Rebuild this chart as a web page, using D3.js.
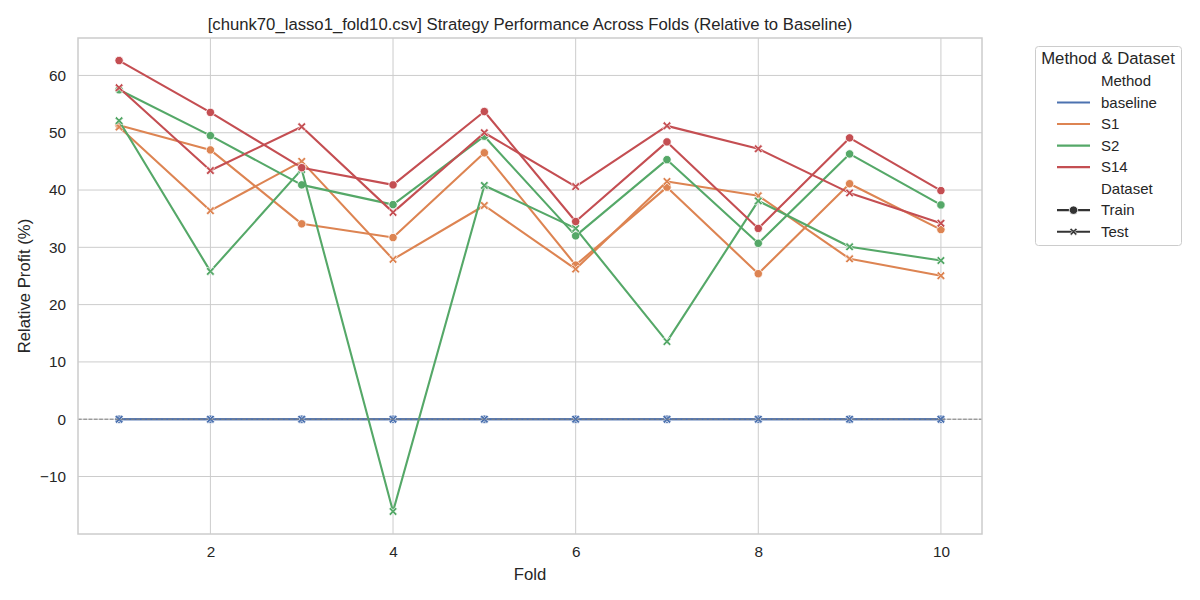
<!DOCTYPE html>
<html>
<head>
<meta charset="utf-8">
<script src="https://cdn.jsdelivr.net/npm/d3@7"></script>
<style>
  body { margin: 0; background: #fff; }
  svg { display: block; }
  text { font-family: "Liberation Sans", Arial, sans-serif; fill: #262626; }
</style>
</head>
<body>
<svg id="chart" width="1200" height="600"></svg>
<script>
const folds = [1, 2, 3, 4, 5, 6, 7, 8, 9, 10];
const methods = ["baseline", "S1", "S2", "S14"];
const datasets = ["Train", "Test"];
const xTicks = [2, 4, 6, 8, 10];
const yTicks = [-10, 0, 10, 20, 30, 40, 50, 60];

const baselineTrain = [0, 0, 0, 0, 0, 0, 0, 0, 0, 0];
const baselineTest  = [0, 0, 0, 0, 0, 0, 0, 0, 0, 0];
const s1Train  = [51.3, 47.0, 34.1, 31.7, 46.5, 26.9, 40.5, 25.4, 41.1, 33.1];
const s1Test   = [51.0, 36.4, 45.0, 27.9, 37.3, 26.2, 41.5, 39.0, 28.0, 25.05];
const s2Train  = [57.5, 49.5, 40.9, 37.45, 49.4, 32.0, 45.3, 30.7, 46.3, 37.4];
const s2Test   = [52.1, 25.8, 43.6, -16.1, 40.8, 33.3, 13.55, 38.1, 30.1, 27.7];
const s14Train = [62.6, 53.55, 43.9, 40.9, 53.7, 34.5, 48.4, 33.3, 49.1, 39.9];
const s14Test  = [57.85, 43.4, 51.05, 36.1, 50.0, 40.6, 51.2, 47.2, 39.5, 34.2];

const colors = { baseline: "#4c72b0", S1: "#dd8452", S2: "#55a868", S14: "#c44e52" };
const seriesValues = {
  baseline: { Train: baselineTrain, Test: baselineTest },
  S1: { Train: s1Train, Test: s1Test },
  S2: { Train: s2Train, Test: s2Test },
  S14: { Train: s14Train, Test: s14Test }
};

const svg = d3.select("#chart");
const pLeft = 78, pRight = 982, pTop = 38, pBottom = 534;

const allVals = methods.flatMap(m => datasets.flatMap(d => seriesValues[m][d]));
const yMin = d3.min(allVals), yMax = d3.max(allVals);
const yPad = (yMax - yMin) * 0.05;
const xPad = (d3.max(folds) - d3.min(folds)) * 0.05;

const x = d3.scaleLinear().domain([d3.min(folds) - xPad, d3.max(folds) + xPad]).range([pLeft, pRight]);
const y = d3.scaleLinear().domain([yMin - yPad, yMax + yPad]).range([pBottom, pTop]);

// grid
const g = svg.append("g");
g.selectAll(".gx").data(xTicks).join("line")
  .attr("x1", d => x(d)).attr("x2", d => x(d)).attr("y1", pTop).attr("y2", pBottom)
  .attr("stroke", "#cccccc").attr("stroke-width", 1);
g.selectAll(".gy").data(yTicks).join("line")
  .attr("x1", pLeft).attr("x2", pRight).attr("y1", d => y(d)).attr("y2", d => y(d))
  .attr("stroke", "#cccccc").attr("stroke-width", 1);

// axes (tick labels only, no tick marks)
const xAxis = d3.axisBottom(x).tickValues(xTicks).tickSize(0).tickPadding(12).tickFormat(d3.format("d"));
const yAxis = d3.axisLeft(y).tickValues(yTicks).tickSize(0).tickPadding(12)
  .tickFormat(d => d < 0 ? "\u2212" + Math.abs(d) : d);
const gx = svg.append("g").attr("transform", `translate(0,${pBottom})`).call(xAxis);
const gy = svg.append("g").attr("transform", `translate(${pLeft},0)`).call(yAxis);
[gx, gy].forEach(a => {
  a.select(".domain").remove();
  a.selectAll("text").style("font-size", "15.3px").attr("fill", "#262626")
    .style("font-family", '"Liberation Sans", Arial, sans-serif');
});

// lines and markers
const line = d3.line().x((d, i) => x(folds[i])).y(d => y(d));
const xMarker = (s) => {
  const a = s * 0.5, b = s * 0.2;
  return `M${-a},${-a + b} L${-a + b},${-a} L0,${-b} L${a - b},${-a} L${a},${-a + b} L${b},0 L${a},${a - b} L${a - b},${a} L0,${b} L${-a + b},${a} L${-a},${a - b} L${-b},0 Z`;
};
const plot = svg.append("g");
methods.forEach(m => {
  datasets.forEach(ds => {
    const vals = seriesValues[m][ds];
    plot.append("path").datum(vals).attr("d", line)
      .attr("fill", "none").attr("stroke", colors[m]).attr("stroke-width", 2.1)
      .attr("stroke-linejoin", "round");
    if (ds === "Train") {
      plot.append("g").selectAll("circle").data(vals).join("circle")
        .attr("cx", (d, i) => x(folds[i])).attr("cy", d => y(d)).attr("r", 4.2)
        .attr("fill", colors[m]).attr("stroke", "#fff").attr("stroke-width", 0.8);
    } else {
      plot.append("g").selectAll("path").data(vals).join("path")
        .attr("d", xMarker(8.5))
        .attr("transform", (d, i) => `translate(${x(folds[i])},${y(d)})`)
        .attr("fill", colors[m]).attr("stroke", "#fff").attr("stroke-width", 0.7);
    }
  });
});

// zero reference line
svg.append("line").attr("x1", pLeft).attr("x2", pRight).attr("y1", y(0)).attr("y2", y(0))
  .attr("stroke", "#808080").attr("stroke-width", 1).attr("stroke-dasharray", "3.7,1.6");

// frame
svg.append("rect").attr("x", pLeft).attr("y", pTop).attr("width", pRight - pLeft).attr("height", pBottom - pTop)
  .attr("fill", "none").attr("stroke", "#cccccc").attr("stroke-width", 1.5);

// titles
svg.append("text").attr("x", (pLeft + pRight) / 2).attr("y", 30).attr("text-anchor", "middle")
  .style("font-size", "16.7px").text("[chunk70_lasso1_fold10.csv] Strategy Performance Across Folds (Relative to Baseline)");
svg.append("text").attr("x", (pLeft + pRight) / 2).attr("y", 580).attr("text-anchor", "middle")
  .style("font-size", "16.7px").text("Fold");
svg.append("text").attr("transform", `translate(30,${(pTop + pBottom) / 2}) rotate(-90)`).attr("text-anchor", "middle")
  .style("font-size", "16.7px").text("Relative Profit (%)");

// legend
const lg = svg.append("g");
lg.append("rect").attr("x", 1035.5).attr("y", 46.5).attr("width", 146).attr("height", 199).attr("rx", 3)
  .attr("fill", "#fff").attr("stroke", "#cccccc").attr("stroke-width", 1);
lg.append("text").attr("x", 1108).attr("y", 64).attr("text-anchor", "middle")
  .style("font-size", "16.7px").text("Method & Dataset");
const rows = [
  { label: "Method", type: "head" },
  ...methods.map(m => ({ label: m, type: "color", color: colors[m] })),
  { label: "Dataset", type: "head" },
  { label: "Train", type: "train" },
  { label: "Test", type: "test" }
];
const rowY = d3.scaleLinear().domain([0, rows.length - 1]).range([81, 231.7]);
rows.forEach((r, i) => {
  const cy = rowY(i);
  lg.append("text").attr("x", 1101).attr("y", cy + 5.3).style("font-size", "15px").text(r.label);
  if (r.type === "color") {
    lg.append("line").attr("x1", 1057).attr("x2", 1090).attr("y1", cy).attr("y2", cy)
      .attr("stroke", r.color).attr("stroke-width", 2.1);
  } else if (r.type === "train" || r.type === "test") {
    lg.append("line").attr("x1", 1057).attr("x2", 1090).attr("y1", cy).attr("y2", cy)
      .attr("stroke", "#333333").attr("stroke-width", 2.1);
    if (r.type === "train") {
      lg.append("circle").attr("cx", 1073.5).attr("cy", cy).attr("r", 4.2)
        .attr("fill", "#333333").attr("stroke", "#fff").attr("stroke-width", 0.8);
    } else {
      lg.append("path").attr("d", xMarker(7.5)).attr("transform", `translate(1073.5,${cy})`)
        .attr("fill", "#333333").attr("stroke", "#fff").attr("stroke-width", 0.7);
    }
  }
});
</script>
</body>
</html>
